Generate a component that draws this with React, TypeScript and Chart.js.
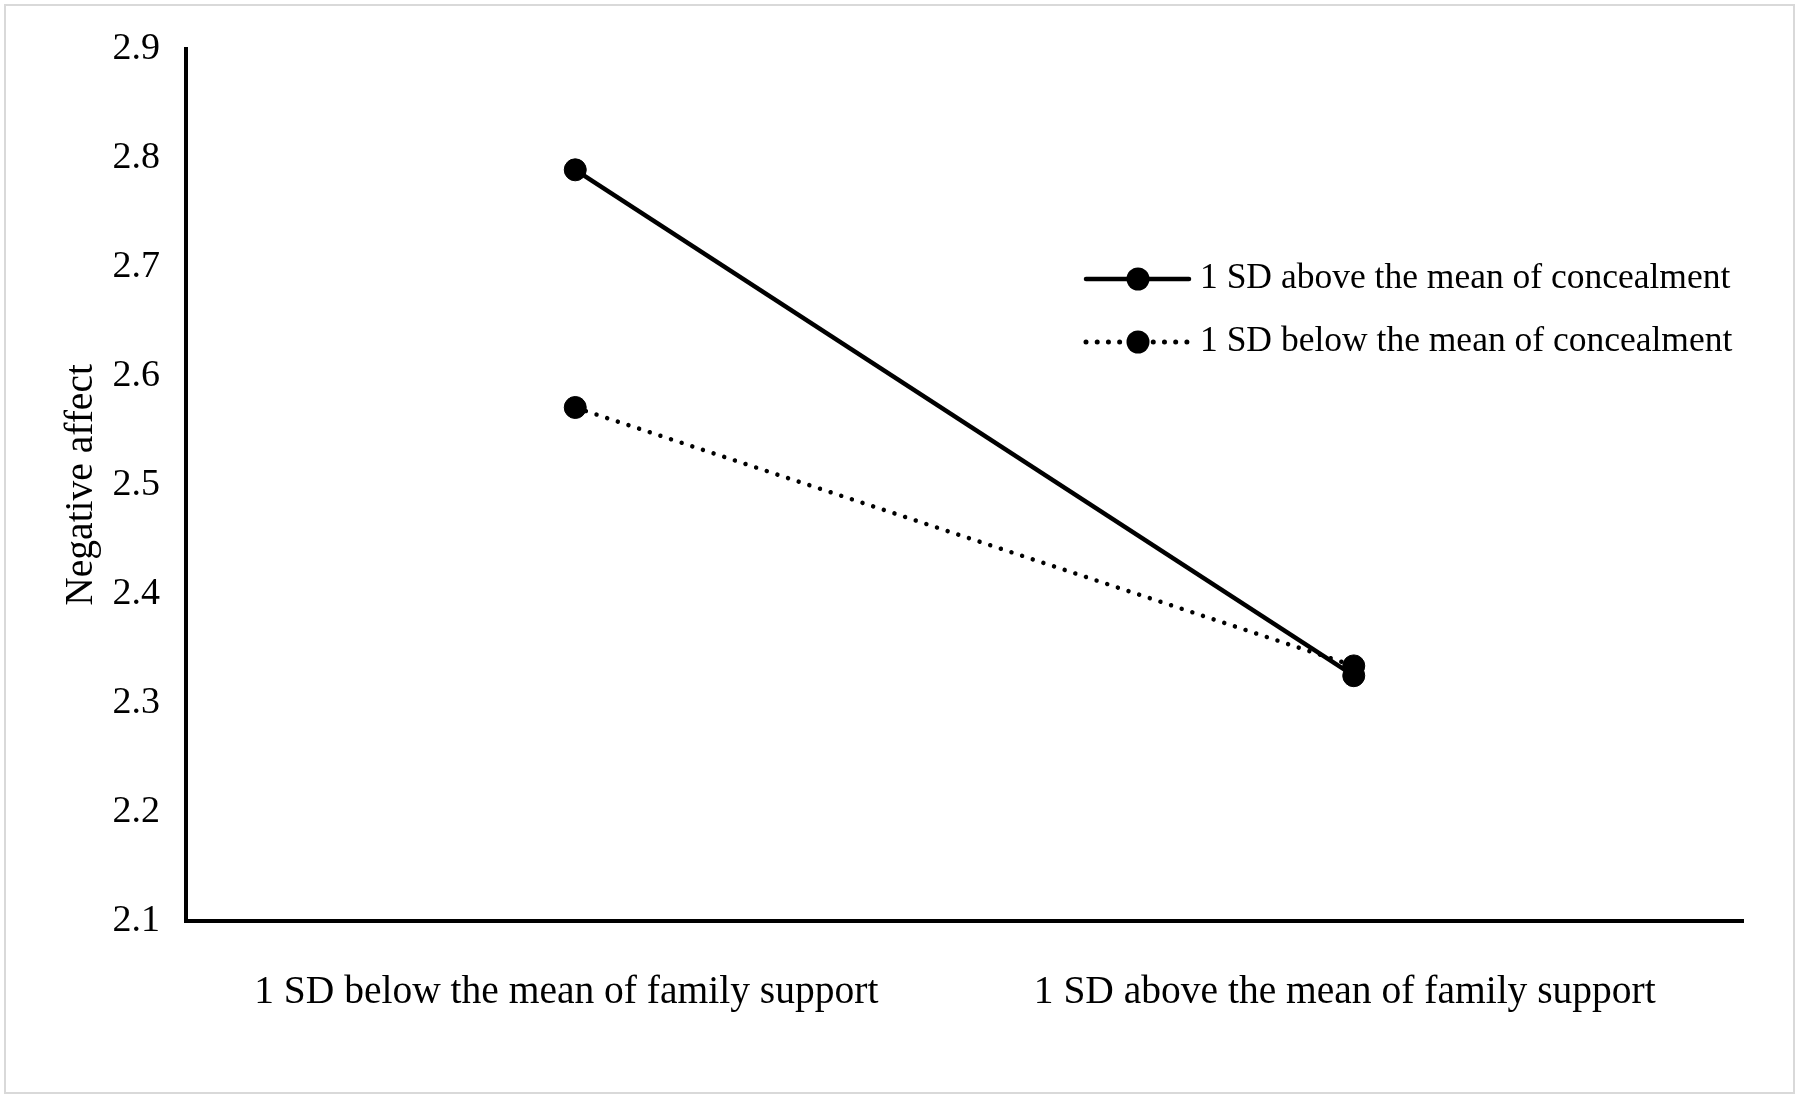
import React, { useEffect, useRef } from 'react';
import { Chart, registerables } from 'chart.js';

Chart.register(...registerables);

const categories = ['1 SD below the mean of family support', '1 SD above the mean of family support'];
const seriesLabels = ['1 SD above the mean of concealment', '1 SD below the mean of concealment'];
const aboveConcealment = [2.789, 2.325];
const belowConcealment = [2.571, 2.334];
const yMin = 2.1;
const yMax = 2.9;
const yStep = 0.1;
const yTitle = 'Negative affect';

const FONT = '"Liberation Serif", "Times New Roman", serif';

const legendPlugin = {
  id: 'customLegend',
  afterDraw(chart: any) {
    const ctx = chart.ctx as CanvasRenderingContext2D;
    const rows = [279, 342];
    const x0 = 1086;
    const x1 = 1189;
    const mx = 1138;
    const tx = 1200;
    chart.data.datasets.forEach((ds: any, i: number) => {
      const y = rows[i];
      ctx.save();
      ctx.strokeStyle = '#000';
      ctx.fillStyle = '#000';
      ctx.lineWidth = ds.borderDash ? 5 : 4.5;
      ctx.lineCap = 'round';
      ctx.setLineDash(ds.borderDash || []);
      ctx.beginPath();
      ctx.moveTo(x0, y);
      ctx.lineTo(x1, y);
      ctx.stroke();
      ctx.setLineDash([]);
      ctx.beginPath();
      ctx.arc(mx, y, 11.5, 0, Math.PI * 2);
      ctx.fill();
      ctx.font = `35.5px ${FONT}`;
      ctx.textAlign = 'left';
      ctx.textBaseline = 'middle';
      ctx.fillText(ds.label, tx, y);
      ctx.restore();
    });
  },
};

export default function App() {
  const ref = useRef<HTMLCanvasElement | null>(null);

  useEffect(() => {
    const canvas = ref.current;
    if (!canvas) return;
    const chart = new Chart(canvas, {
      type: 'line',
      data: {
        labels: categories,
        datasets: [
          {
            label: seriesLabels[0],
            data: aboveConcealment,
            borderColor: '#000',
            backgroundColor: '#000',
            borderWidth: 4.5,
            pointRadius: 11,
            pointHoverRadius: 11,
            pointBackgroundColor: '#000',
            pointBorderColor: '#000',
            pointBorderWidth: 1,
            fill: false,
            tension: 0,
          },
          {
            label: seriesLabels[1],
            data: belowConcealment,
            borderColor: '#000',
            backgroundColor: '#000',
            borderWidth: 4.5,
            borderDash: [0.01, 11.2],
            borderCapStyle: 'round',
            pointRadius: 11,
            pointHoverRadius: 11,
            pointBackgroundColor: '#000',
            pointBorderColor: '#000',
            pointBorderWidth: 1,
            fill: false,
            tension: 0,
          },
        ],
      },
      options: {
        responsive: false,
        animation: false,
        devicePixelRatio: 1,
        layout: { padding: { top: 45, right: 57, left: 0, bottom: 0 } },
        plugins: {
          legend: { display: false },
          tooltip: { enabled: false },
        },
        scales: {
          x: {
            type: 'category',
            offset: true,
            grid: { display: false, drawTicks: false },
            border: { display: true, color: '#000', width: 4 },
            ticks: {
              color: '#000',
              font: { family: FONT, size: 39.5 },
              padding: 48,
              labelOffset: -9,
              maxRotation: 0,
              autoSkip: false,
            },
            afterFit: (scale: any) => {
              scale.height = 178;
            },
          },
          y: {
            min: yMin,
            max: yMax,
            grid: { display: false, drawTicks: false },
            border: { display: true, color: '#000', width: 4 },
            ticks: {
              stepSize: yStep,
              color: '#000',
              font: { family: FONT, size: 38 },
              padding: 26,
              callback: (v: any) => Number(v).toFixed(1),
            },
            title: {
              display: true,
              text: yTitle,
              color: '#000',
              font: { family: FONT, size: 39.5 },
              padding: { top: 58, bottom: 0 },
            },
            afterFit: (scale: any) => {
              scale.width = 186;
            },
          },
        },
      },
      plugins: [legendPlugin],
    } as any);
    return () => chart.destroy();
  }, []);

  return (
    <div style={{ position: 'absolute', left: 0, top: 0, width: 1800, height: 1099, background: '#fff' }}>
      <canvas ref={ref} width={1800} height={1099} style={{ position: 'absolute', left: 0, top: 0, width: 1800, height: 1099 }} />
      <div
        style={{
          position: 'absolute',
          left: 4,
          top: 4,
          width: 1787,
          height: 1086,
          border: '2px solid #d9d9d9',
          pointerEvents: 'none',
        }}
      />
    </div>
  );
}
